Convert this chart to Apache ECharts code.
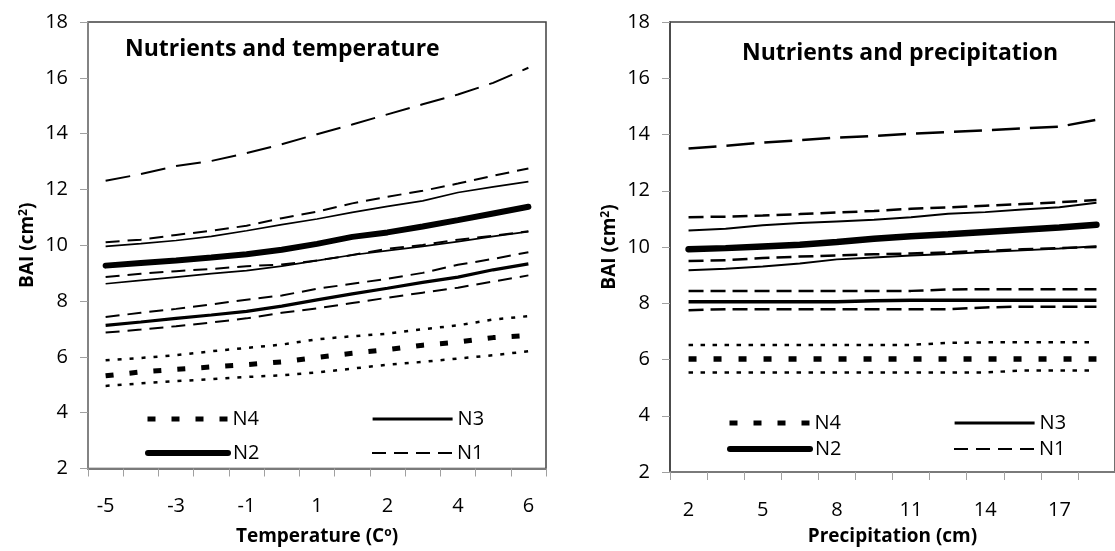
<!DOCTYPE html>
<html>
<head>
<meta charset="utf-8">
<script src="https://cdn.jsdelivr.net/npm/echarts@6/dist/echarts.min.js"></script>
<style>
  html, body { margin: 0; padding: 0; background: #fff; }
  #chart { width: 1115px; height: 551px; }
</style>
</head>
<body>
<div id="chart"></div>
<script>
// ---------- DATA ----------
// Left panel: temperature (categories, every other one labelled)
const tempValues = [-5, -4.08, -3.17, -2.25, -1.33, -0.42, 0.5, 1.42, 2.33, 3.25, 4.17, 5.08, 6];
const tN1      = [10.11, 10.20, 10.37, 10.52, 10.70, 10.97, 11.20, 11.50, 11.74, 11.95, 12.21, 12.49, 12.75];
const tN1Upper = [12.31, 12.55, 12.84, 13.02, 13.30, 13.62, 13.98, 14.33, 14.69, 15.05, 15.40, 15.82, 16.36];
const tN1Lower = [8.86, 8.98, 9.07, 9.15, 9.25, 9.31, 9.45, 9.65, 9.87, 10.01, 10.20, 10.34, 10.50];
const tN2      = [9.27, 9.36, 9.45, 9.56, 9.68, 9.84, 10.05, 10.30, 10.46, 10.67, 10.90, 11.14, 11.38];
const tN2Upper = [9.96, 10.06, 10.17, 10.32, 10.52, 10.74, 10.94, 11.18, 11.39, 11.59, 11.89, 12.09, 12.28];
const tN2Lower = [8.62, 8.74, 8.86, 8.98, 9.09, 9.25, 9.45, 9.65, 9.81, 9.96, 10.13, 10.32, 10.49];
const tN3      = [7.13, 7.25, 7.38, 7.50, 7.63, 7.82, 8.04, 8.26, 8.46, 8.67, 8.86, 9.12, 9.33];
const tN3Upper = [7.43, 7.58, 7.72, 7.88, 8.05, 8.20, 8.44, 8.62, 8.80, 9.01, 9.30, 9.51, 9.75];
const tN3Lower = [6.87, 6.98, 7.10, 7.23, 7.38, 7.58, 7.74, 7.93, 8.12, 8.30, 8.48, 8.70, 8.92];
const tN4      = [5.32, 5.46, 5.55, 5.64, 5.72, 5.82, 5.98, 6.13, 6.26, 6.42, 6.53, 6.69, 6.77];
const tN4Upper = [5.88, 5.96, 6.06, 6.20, 6.32, 6.44, 6.63, 6.74, 6.83, 6.99, 7.13, 7.34, 7.46];
const tN4Lower = [4.96, 5.05, 5.13, 5.20, 5.28, 5.34, 5.44, 5.58, 5.72, 5.82, 5.94, 6.06, 6.20];

// Right panel: precipitation
const precipValues = [2, 3.5, 5, 6.5, 8, 9.5, 11, 12.5, 14, 15.5, 17, 18.5];
const pN1      = [11.06, 11.08, 11.12, 11.17, 11.23, 11.28, 11.36, 11.41, 11.47, 11.53, 11.59, 11.67];
const pN1Upper = [13.50, 13.60, 13.71, 13.80, 13.89, 13.95, 14.03, 14.09, 14.15, 14.22, 14.28, 14.52];
const pN1Lower = [9.50, 9.53, 9.61, 9.66, 9.70, 9.74, 9.77, 9.81, 9.86, 9.92, 9.96, 10.00];
const pN2      = [9.92, 9.96, 10.02, 10.08, 10.18, 10.29, 10.38, 10.45, 10.53, 10.61, 10.69, 10.79];
const pN2Upper = [10.59, 10.65, 10.77, 10.85, 10.91, 10.97, 11.06, 11.18, 11.24, 11.33, 11.41, 11.57];
const pN2Lower = [9.17, 9.23, 9.31, 9.41, 9.56, 9.63, 9.70, 9.75, 9.82, 9.88, 9.95, 10.03];
const pN3      = [8.05, 8.05, 8.05, 8.05, 8.05, 8.09, 8.11, 8.11, 8.11, 8.11, 8.11, 8.11];
const pN3Upper = [8.44, 8.44, 8.44, 8.44, 8.44, 8.44, 8.44, 8.49, 8.50, 8.50, 8.50, 8.50];
const pN3Lower = [7.75, 7.79, 7.79, 7.79, 7.79, 7.79, 7.79, 7.79, 7.85, 7.88, 7.88, 7.88];
const pN4      = [6.02, 6.02, 6.02, 6.02, 6.02, 6.02, 6.02, 6.02, 6.02, 6.02, 6.02, 6.02];
const pN4Upper = [6.52, 6.52, 6.52, 6.52, 6.52, 6.52, 6.52, 6.59, 6.61, 6.61, 6.61, 6.61];
const pN4Lower = [5.54, 5.54, 5.54, 5.54, 5.54, 5.54, 5.54, 5.54, 5.54, 5.61, 5.61, 5.61];

const yTicks = { min: 2, max: 18, interval: 2 };
const legendNames = ['N4', 'N3', 'N2', 'N1'];

// ---------- STYLES ----------
const FONT = '"Open Sans", sans-serif';
const styles = {
  left: {
    longDash: { width: 2, type: [25, 11] },
    dash:     { width: 2, type: [14, 8] },
    thin:     { width: 1.7, type: 'solid' },
    thick:    { width: 6, type: 'solid', cap: 'round' },
    medium:   { width: 3.2, type: 'solid' },
    dot:      { width: 2.5, type: [4, 8] },
    square:   { width: 5, type: [8, 16] }
  },
  right: {
    longDash: { width: 2.5, type: [28, 10] },
    dash:     { width: 2.5, type: [15, 7] },
    thin:     { width: 2, type: 'solid' },
    thick:    { width: 6.5, type: 'solid', cap: 'round' },
    medium:   { width: 3.5, type: 'solid' },
    dot:      { width: 2.5, type: [4.5, 7.5] },
    square:   { width: 5.5, type: [8, 17] }
  }
};

function line(name, data, idx, st) {
  return {
    name: name, type: 'line', data: data,
    xAxisIndex: idx, yAxisIndex: idx,
    symbol: 'none', showSymbol: false, silent: true, smooth: false,
    itemStyle: { color: '#000' },
    lineStyle: Object.assign({ color: '#000', cap: 'butt' }, st),
    z: 3
  };
}

const L = styles.left, R = styles.right;
const series = [
  line('N1 upper', tN1Upper, 0, L.longDash),
  line('N1', tN1, 0, L.dash),
  line('N1 lower', tN1Lower, 0, L.dash),
  line('N2 upper', tN2Upper, 0, L.thin),
  line('N2', tN2, 0, L.thick),
  line('N2 lower', tN2Lower, 0, L.thin),
  line('N3 upper', tN3Upper, 0, L.dash),
  line('N3', tN3, 0, L.medium),
  line('N3 lower', tN3Lower, 0, L.dash),
  line('N4 upper', tN4Upper, 0, L.dot),
  line('N4', tN4, 0, L.square),
  line('N4 lower', tN4Lower, 0, L.dot),

  line('N1 upper', pN1Upper, 1, R.longDash),
  line('N1', pN1, 1, R.dash),
  line('N1 lower', pN1Lower, 1, R.dash),
  line('N2 upper', pN2Upper, 1, R.thin),
  line('N2', pN2, 1, R.thick),
  line('N2 lower', pN2Lower, 1, R.thin),
  line('N3 upper', pN3Upper, 1, R.dash),
  line('N3', pN3, 1, R.medium),
  line('N3 lower', pN3Lower, 1, R.dash),
  line('N4 upper', pN4Upper, 1, R.dot),
  line('N4', pN4, 1, R.square),
  line('N4 lower', pN4Lower, 1, R.dot)
];

const supRich = { sup: { fontSize: 12, fontWeight: 'bold', fontFamily: FONT, color: '#000', verticalAlign: 'top', padding: [0, 0, 8, 0] } };

function xAxis(idx, cats, fmt, lineColor, name, nameGap) {
  return {
    type: 'category', gridIndex: idx, data: cats, boundaryGap: true,
    axisLine: { show: true, lineStyle: { color: lineColor, width: 2 } },
    axisTick: { show: true, interval: 0, length: 8, lineStyle: { color: '#a0a0a0', width: 1 } },
    axisLabel: { interval: 1, margin: 28, color: '#000', fontSize: 20, fontFamily: FONT, formatter: fmt },
    splitLine: { show: false },
    name: name, nameLocation: 'middle', nameGap: nameGap,
    nameTextStyle: { fontSize: 19, fontWeight: 'bold', fontFamily: FONT, color: '#000', rich: supRich }
  };
}
function yAxis(idx, lineColor, nameGap) {
  return {
    type: 'value', gridIndex: idx, min: yTicks.min, max: yTicks.max, interval: yTicks.interval,
    axisLine: { show: true, lineStyle: { color: lineColor, width: 1.5 } },
    axisTick: { show: true, length: 8, lineStyle: { color: '#a0a0a0', width: 1 } },
    axisLabel: { margin: 20, color: '#000', fontSize: 20, fontFamily: FONT },
    splitLine: { show: false },
    name: 'BAI (cm{sup|2})', nameLocation: 'middle', nameGap: nameGap,
    nameTextStyle: { fontSize: 19, fontWeight: 'bold', fontFamily: FONT, color: '#000', rich: supRich }
  };
}

function legend(name, left, top) {
  return {
    data: [name], left: left, top: top, padding: 0,
    itemWidth: 80, itemHeight: 14,
    itemStyle: { opacity: 0 },
    lineStyle: { width: 'inherit', type: 'inherit', cap: 'inherit', color: '#000', opacity: 1 },
    textStyle: { fontSize: 20, fontFamily: FONT, color: '#000', lineHeight: 20 },
    selectedMode: false
  };
}

const option = {
  animation: false,
  backgroundColor: '#fff',
  title: [
    { text: 'Nutrients and temperature', left: 125, top: 38, padding: 0,
      textStyle: { fontSize: 23, fontWeight: 'bold', fontFamily: FONT, color: '#000' } },
    { text: 'Nutrients and precipitation', left: 742, top: 42, padding: 0,
      textStyle: { fontSize: 23, fontWeight: 'bold', fontFamily: FONT, color: '#000' } }
  ],
  grid: [
    { left: 88, top: 22, width: 458, height: 449, show: true, borderColor: '#404040', borderWidth: 1.5, backgroundColor: 'transparent', containLabel: false },
    { left: 670, top: 22, width: 456, height: 452, show: true, borderColor: '#404040', borderWidth: 1.5, backgroundColor: 'transparent', containLabel: false }
  ],
  xAxis: [
    xAxis(0, tempValues, function (v) { return String(Math.round(Number(v))); }, '#7a7a7a', 'Temperature (C{sup|o})', 58),
    xAxis(1, precipValues, function (v) { return String(Number(v)); }, '#7a7a7a', 'Precipitation (cm)', 55)
  ],
  yAxis: [
    yAxis(0, '#8a8a8a', 50),
    yAxis(1, '#404040', 50)
  ],
  legend: [
    legend(legendNames[0], 145, 409),
    legend(legendNames[2], 145, 443),
    legend(legendNames[1], 371, 409),
    legend(legendNames[3], 371, 443),
    legend(legendNames[0], 727, 413),
    legend(legendNames[2], 727, 439),
    legend(legendNames[1], 953, 413),
    legend(legendNames[3], 953, 439)
  ],
  series: series
};

const chart = echarts.init(document.getElementById('chart'), null, { renderer: 'canvas' });
chart.setOption(option);
</script>
</body>
</html>
